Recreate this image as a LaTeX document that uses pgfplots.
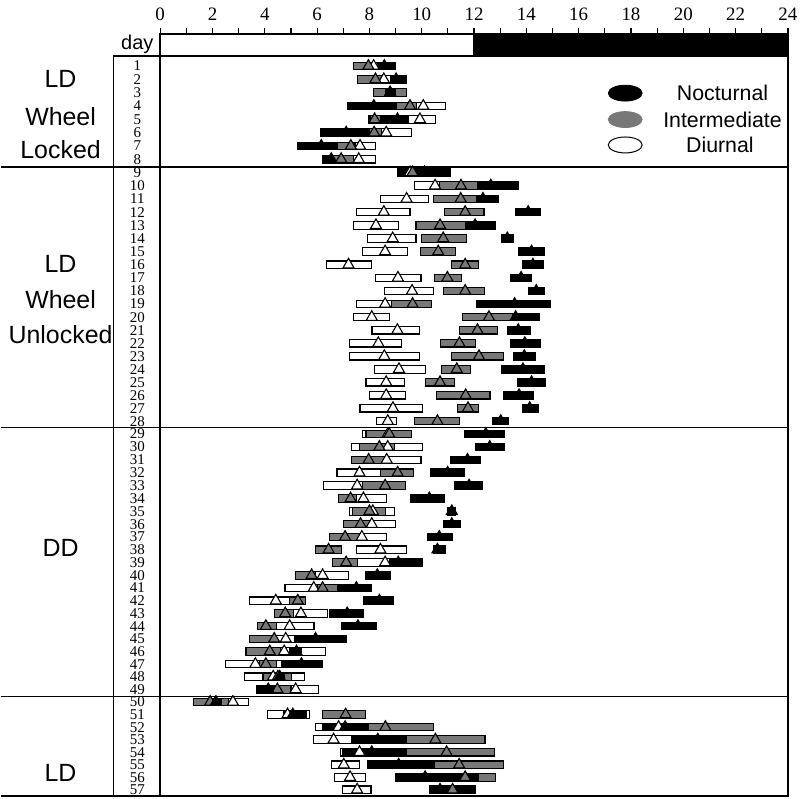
\documentclass[border=0pt]{standalone}
\usepackage{fontspec}
\setmainfont{Liberation Serif}
\setsansfont{Liberation Sans}
\usepackage{pgfplots}
\usepackage{pgfplotstable}
\pgfplotsset{compat=1.18}

% day  nocturnal(start end peak)  intermediate(start end peak)  diurnal(start end peak)
\pgfplotstableread{
day ns ne nt is ie it ds de dt
1 8.3 8.98 8.57 7.4 8.4 7.96 7.9 8.6 8.16
2 8.8 9.4 9.02 7.56 8.6 8.23 8.1 8.9 8.55
3 8.6 9.0 8.79 8.15 9.42 8.79 8.5 8.9 8.79
4 7.15 9.02 8.17 9.0 9.8 9.55 9.78 10.9 10.06
5 8.42 9.5 9.07 8.02 8.5 8.2 7.95 10.54 9.93
6 6.12 8.0 7.11 7.9 8.45 8.18 8.4 9.61 8.64
7 5.27 6.79 6.16 6.79 7.45 7.29 7.43 8.22 7.64
8 6.2 6.6 6.54 6.6 7.4 6.92 7.37 8.22 7.59
9 9.08 11.09 10.1 9.3 9.9 9.65 9.45 9.75 9.55
10 12.13 13.69 12.64 10.67 12.13 11.5 9.71 10.67 10.51
11 12.1 12.93 12.34 10.44 12.1 11.49 8.42 10.26 9.42
12 13.59 14.55 14.07 10.86 12.38 11.66 7.52 9.55 8.55
13 11.66 12.8 12.04 9.78 11.66 10.7 7.39 9.12 8.25
14 13.04 13.52 13.27 9.99 11.71 10.82 7.94 9.78 8.89
15 13.71 14.68 14.2 9.94 11.3 10.63 7.75 9.46 8.6
16 13.84 14.64 14.25 11.15 12.17 11.66 6.35 8.08 7.2
17 13.4 14.2 13.8 10.48 11.53 10.98 8.23 9.97 9.09
18 14.07 14.68 14.38 10.83 12.39 11.66 8.58 10.45 9.63
19 12.09 14.92 13.55 8.83 10.37 9.65 7.52 8.83 8.6
20 13.46 14.5 13.59 11.56 13.46 12.57 7.38 8.76 8.09
21 13.27 14.16 13.69 11.43 12.89 12.13 8.1 9.93 9.07
22 13.4 14.54 13.94 10.71 12.06 11.44 7.24 9.24 8.34
23 13.5 14.35 13.92 11.15 13.14 12.19 7.24 9.91 8.57
24 13.04 14.68 13.87 10.76 11.85 11.34 8.19 10.13 9.13
25 13.65 14.73 14.2 10.16 11.25 10.7 7.87 9.33 8.64
26 13.13 14.29 13.72 10.58 12.61 11.68 8.0 9.37 8.64
27 13.84 14.45 14.13 11.38 12.17 11.77 7.64 10.04 8.9
28 12.7 13.33 13.02 9.73 11.43 10.6 8.28 9.02 8.7
29 11.62 13.15 12.45 7.87 9.6 8.76 7.75 8.9 8.7
30 12.06 13.15 12.6 7.62 8.95 8.38 7.3 10.03 8.7
31 11.11 12.26 11.75 7.3 8.63 7.97 7.3 9.97 8.66
32 10.35 11.62 10.99 8.44 9.68 9.08 6.76 8.44 7.62
33 11.24 12.32 11.81 7.75 9.37 8.6 6.25 7.75 7.53
34 9.59 10.86 10.29 6.83 7.49 7.28 7.49 8.66 7.77
35 10.99 11.3 11.15 7.34 8.63 8.0 7.24 8.95 8.13
36 10.83 11.47 11.15 7.01 8.13 7.66 7.95 8.99 8.09
37 10.22 11.17 10.67 6.48 7.62 7.07 7.55 8.66 7.71
38 10.44 10.9 10.6 5.94 6.92 6.44 7.52 9.42 8.42
39 8.76 10.02 9.1 6.59 7.54 7.11 7.54 8.76 8.6
40 7.85 8.8 8.3 5.18 5.95 5.79 5.79 7.2 6.21
41 6.78 8.08 7.5 6.0 6.78 6.21 4.77 6.9 5.87
42 7.77 8.91 8.38 4.95 5.56 5.26 3.43 4.95 4.42
43 6.48 7.77 7.15 4.36 5.1 4.78 4.6 6.41 5.38
44 6.92 8.28 7.56 3.71 4.45 4.04 4.45 5.88 4.95
45 5.14 7.14 5.94 3.43 4.45 4.36 4.4 5.2 4.8
46 4.95 5.4 5.21 3.28 4.6 4.19 4.2 6.31 4.74
47 4.64 6.2 5.4 3.81 4.45 4.04 2.48 4.64 3.64
48 4.38 4.76 4.57 3.93 5.03 4.5 3.24 5.52 4.32
49 3.68 4.4 4.13 3.9 5.0 4.48 4.9 6.06 5.18
50 1.97 2.35 2.13 1.27 2.6 1.91 2.6 3.39 2.78
51 4.7 5.6 5.07 6.22 7.85 7.09 4.1 5.72 4.87
52 6.22 7.98 7.07 7.98 10.45 8.61 5.94 7.0 6.82
53 7.3 9.4 8.32 9.4 12.42 10.52 5.87 7.3 6.63
54 6.98 9.4 8.09 9.4 12.79 10.95 6.9 8.0 7.62
55 7.94 10.48 9.12 10.48 13.14 11.43 6.54 7.62 7.02
56 8.99 12.17 10.13 11.0 12.83 11.66 6.67 7.85 7.26
57 10.29 12.07 10.7 10.8 11.4 11.18 6.96 8.06 7.53
}\data

% vertical position of each day row (one axis unit = one pixel)
\newcommand{\rowy}{-(66.3+13.414*(\thisrow{day}-1)-0.00791*(\thisrow{day}-1)^2)}

\definecolor{midgray}{RGB}{120,120,120}

\pgfplotsset{
  barplot/.style 2 args={draw=none, mark=none,
    nodes near coords={\relax},
    nodes near coords align={center},
    visualization depends on={\thisrow{#1e}-\thisrow{#1s} \as \barw},
    every node near coord/.append style={rectangle, draw=black, line width=0.55pt,
      fill=#2, inner sep=0pt, outer sep=0pt, minimum height=3.8pt,
      minimum width=\barw*13.125pt, anchor=center}},
  peak/.style={only marks, mark=triangle*, mark size=3.2pt,
    mark options={draw=black, fill=#1, line width=0.55pt}},
}

\begin{document}
\begin{tikzpicture}
\begin{axis}[
  x=13.125pt, y=0.5pt,
  xmin=0, xmax=24, ymin=-799, ymax=-34,
  clip=false,
  axis line style={line width=0.8pt},
  xtick={0,2,...,24},
  minor xtick={1,3,...,23},
  xtick pos=upper, xticklabel pos=upper,
  tick align=outside,
  major tick length=3pt, minor tick length=3pt,
  tick style={line width=0.6pt, black},
  ytick=\empty,
  xticklabel style={font=\fontsize{9.5}{9.5}\selectfont},
  /pgf/number format/assume math mode=true,
]
% invisible frame giving the picture its size
\path (axis cs:-6.095,0) rectangle (axis cs:24.533,-801);

% day / night strip
\draw[line width=0.8pt, fill=white] (axis cs:0,-34) rectangle (axis cs:12,-56);
\fill[black] (axis cs:12,-34) rectangle (axis cs:24,-56);
\node[font=\sffamily\fontsize{10}{10}\selectfont] at (axis cs:-0.876,-45) {day};

% table lines
\draw[line width=0.8pt] (axis cs:-1.79,-56) -- (axis cs:24,-56);
\draw[line width=0.8pt] (axis cs:-1.79,-56) -- (axis cs:-1.79,-799);
\draw[line width=0.7pt] (axis cs:-6.095,-167.5) -- (axis cs:24,-167.5);
\draw[line width=0.7pt] (axis cs:-6.095,-429) -- (axis cs:24,-429);
\draw[line width=0.7pt] (axis cs:-6.095,-699) -- (axis cs:24,-699);
\draw[line width=0.8pt] (axis cs:-6.095,-799) -- (axis cs:24,-799);

% bars
\addplot[barplot={d}{white}] table[x expr=(\thisrow{ds}+\thisrow{de})/2, y expr=\rowy]{\data};
\addplot[barplot={i}{midgray}] table[x expr=(\thisrow{is}+\thisrow{ie})/2, y expr=\rowy]{\data};
\addplot[barplot={n}{black}] table[x expr=(\thisrow{ns}+\thisrow{ne})/2, y expr=\rowy]{\data};
% peaks
\addplot[peak=white] table[x=dt, y expr=\rowy]{\data};
\addplot[peak=midgray] table[x=it, y expr=\rowy]{\data};
\addplot[peak=black] table[x=nt, y expr=\rowy]{\data};

% day numbers
\addplot[draw=none, mark=none, point meta=explicit symbolic,
  nodes near coords={\pgfplotspointmeta}, nodes near coords align={center},
  every node near coord/.append style={anchor=center, inner sep=0pt,
    font=\fontsize{7.5}{7.5}\selectfont}]
  table[x expr=-0.876, y expr=\rowy, meta=day]{\data};

% group labels
\begin{scope}[every node/.style={font=\sffamily\fontsize{12.5}{13}\selectfont}]
\node at (axis cs:-3.81,-79) {LD};
\node at (axis cs:-3.81,-117) {Wheel};
\node at (axis cs:-3.81,-150) {Locked};
\node at (axis cs:-3.81,-265) {LD};
\node at (axis cs:-3.81,-301) {Wheel};
\node at (axis cs:-3.81,-336) {Unlocked};
\node at (axis cs:-3.81,-550) {DD};
\node at (axis cs:-3.81,-776) {LD};
\end{scope}

% legend
\draw[fill=black] (axis cs:17.78,-93.5) ellipse [x radius=8.5pt, y radius=4pt];
\draw[draw=midgray, fill=midgray] (axis cs:17.78,-120) ellipse [x radius=8.5pt, y radius=4pt];
\draw[fill=white, line width=0.5pt] (axis cs:17.78,-145.5) ellipse [x radius=8.5pt, y radius=4pt];
\begin{scope}[every node/.style={font=\sffamily\fontsize{10.7}{11}\selectfont}]
\node at (axis cs:21.5,-93.5) {Nocturnal};
\node at (axis cs:21.5,-120) {Intermediate};
\node at (axis cs:21.4,-145.5) {Diurnal};
\end{scope}
\end{axis}
\end{tikzpicture}
\end{document}
